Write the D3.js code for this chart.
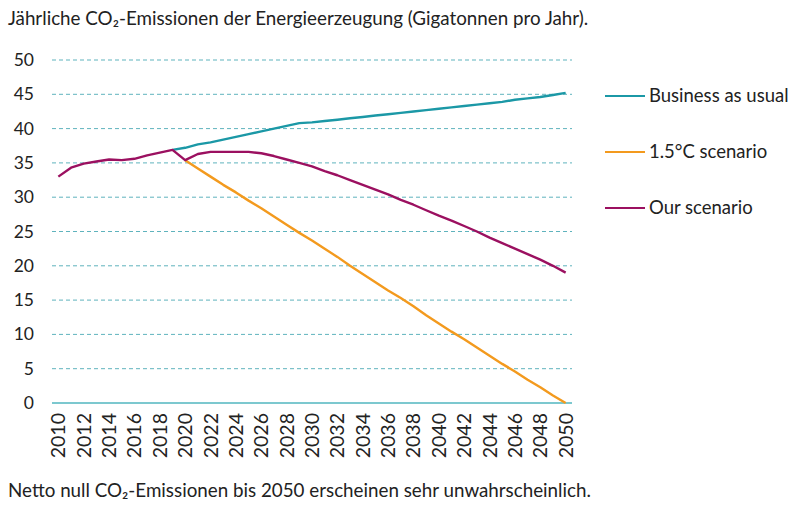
<!DOCTYPE html>
<html>
<head>
<meta charset="utf-8">
<script src="https://cdn.jsdelivr.net/npm/d3@7"></script>
<style>
  body { margin: 0; background: #fff; }
  svg text { font-family: Lato, "Open Sans", sans-serif; fill: #222; }
</style>
</head>
<body>
<div id="chart"></div>
<script>
// Jahre 2010..2050
const years = d3.range(2010, 2051);
const yTicks = [0, 5, 10, 15, 20, 25, 30, 35, 40, 45, 50];

// Historie + eigenes Szenario (2010-2050)
const ourScenario = [33.0, 34.3, 34.9, 35.2, 35.5, 35.4, 35.6, 36.1, 36.5, 36.9,
  35.4, 36.3, 36.6, 36.6, 36.6, 36.6, 36.4, 36.0, 35.5, 35.0,
  34.5, 33.8, 33.2, 32.5, 31.8, 31.1, 30.4, 29.6, 28.9, 28.1,
  27.3, 26.6, 25.8, 25.0, 24.1, 23.3, 22.5, 21.7, 20.9, 20.0, 19.0];
// Business as usual (2019-2050)
const bauYears = d3.range(2019, 2051);
const bau = [36.9, 37.2, 37.7, 38.0, 38.4, 38.8, 39.2, 39.6, 40.0, 40.4, 40.8,
  40.9, 41.1, 41.3, 41.5, 41.7, 41.9, 42.1, 42.3, 42.5, 42.7,
  42.9, 43.1, 43.3, 43.5, 43.7, 43.9, 44.2, 44.4, 44.6, 44.9, 45.2];
// 1.5°C Szenario (2020-2050)
const c15Years = d3.range(2020, 2051);
const c15 = [35.4, 34.2, 33.0, 31.8, 30.7, 29.5, 28.4, 27.2, 26.0, 24.8,
  23.7, 22.5, 21.3, 20.0, 18.8, 17.6, 16.4, 15.3, 14.1, 12.8,
  11.6, 10.4, 9.3, 8.1, 6.9, 5.7, 4.6, 3.4, 2.3, 1.1, 0.0];

const seriesNames = ["Business as usual", "1.5°C scenario", "Our scenario"];
const seriesColors = ["#1b98a6", "#f39a1e", "#9b1060"];

const width = 800, height = 509;
const margin = { top: 60, left: 52, right: 228, bottom: 106 };

const svg = d3.select("#chart").append("svg")
  .attr("width", width).attr("height", height);

const x = d3.scalePoint()
  .domain(years)
  .range([margin.left, width - margin.right])
  .padding(0.5);

const y = d3.scaleLinear()
  .domain([0, 50])
  .range([height - margin.bottom, margin.top]);

// Titel
svg.append("text")
  .attr("x", 8).attr("y", 25)
  .attr("font-size", 18.8)
  .text("Jährliche CO₂-Emissionen der Energieerzeugung (Gigatonnen pro Jahr).");

// Gitterlinien
svg.append("g")
  .selectAll("line")
  .data(yTicks.filter(d => d > 0))
  .join("line")
  .attr("x1", margin.left).attr("x2", width - margin.right)
  .attr("y1", d => y(d)).attr("y2", d => y(d))
  .attr("stroke", "#5fb3bd")
  .attr("stroke-dasharray", "4,3")
  .attr("stroke-width", 1);

// Nulllinie
svg.append("line")
  .attr("x1", margin.left).attr("x2", width - margin.right)
  .attr("y1", y(0)).attr("y2", y(0))
  .attr("stroke", "#7cc8cf")
  .attr("stroke-width", 2);

// Y-Achse
svg.append("g")
  .selectAll("text")
  .data(yTicks)
  .join("text")
  .attr("x", 34).attr("y", d => y(d) + 6)
  .attr("text-anchor", "end")
  .attr("font-size", 17.5)
  .text(d => d);

// X-Achse (gedreht)
svg.append("g")
  .selectAll("text")
  .data(years.filter(d => d % 2 === 0))
  .join("text")
  .attr("transform", d => `translate(${x(d) + 7},${y(0) + 10}) rotate(-90)`)
  .attr("text-anchor", "end")
  .attr("font-size", 19.5)
  .text(d => d);

const line = d3.line()
  .x(d => x(d[0]))
  .y(d => y(d[1]));

const data = [
  bauYears.map((yr, i) => [yr, bau[i]]),
  c15Years.map((yr, i) => [yr, c15[i]]),
  years.map((yr, i) => [yr, ourScenario[i]])
];

data.forEach((d, i) => {
  svg.append("path")
    .datum(d)
    .attr("d", line)
    .attr("fill", "none")
    .attr("stroke", seriesColors[i])
    .attr("stroke-width", 2.4)
    .attr("stroke-linejoin", "round");
});

// Legende
const legend = svg.append("g");
seriesNames.forEach((name, i) => {
  const ly = 96 + i * 56;
  legend.append("line")
    .attr("x1", 605).attr("x2", 645)
    .attr("y1", ly).attr("y2", ly)
    .attr("stroke", seriesColors[i])
    .attr("stroke-width", 2);
  legend.append("text")
    .attr("x", 649).attr("y", ly + 6)
    .attr("font-size", 18.5)
    .text(name);
});

// Fußnote
svg.append("text")
  .attr("x", 8).attr("y", 497)
  .attr("font-size", 18.8)
  .text("Netto null CO₂-Emissionen bis 2050 erscheinen sehr unwahrscheinlich.");
</script>
</body>
</html>
